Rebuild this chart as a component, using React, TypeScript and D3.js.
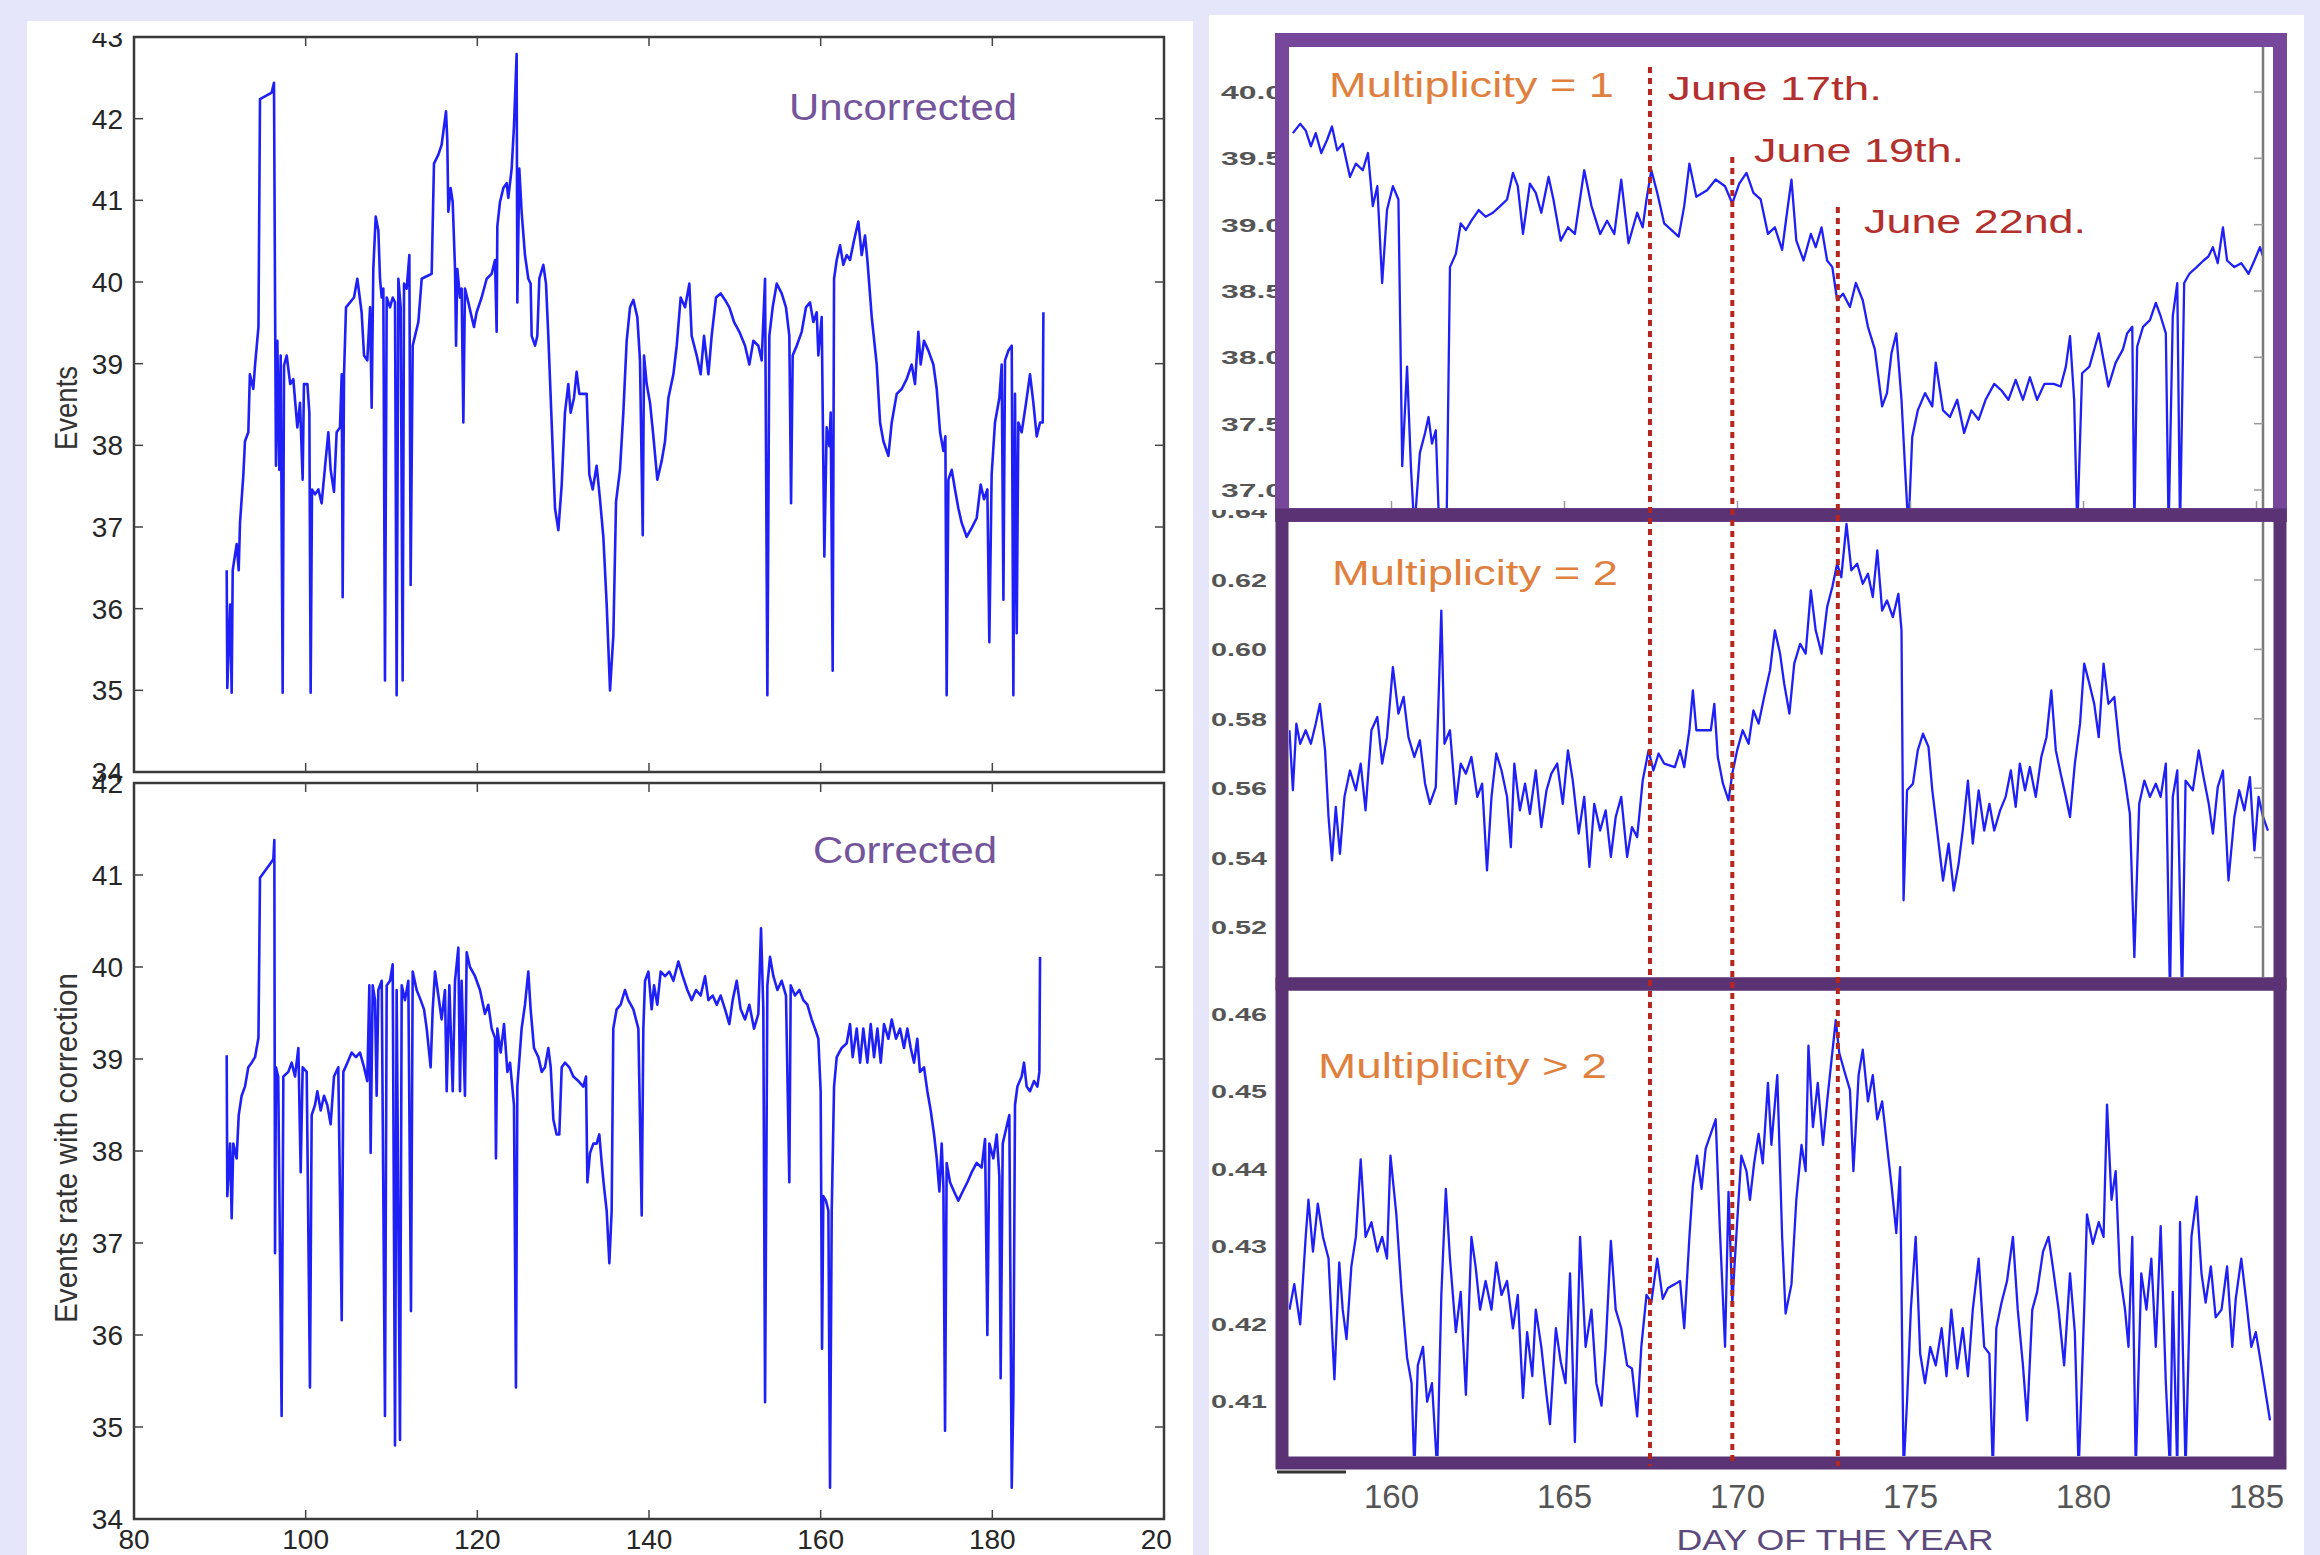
import React from 'react';
import * as d3 from 'd3';

// day of year, event rate
const uncorrected: [number, number][] = [
  [90.8, 36.47], [90.87, 35.03], [91.2, 36.05], [91.38, 34.97], [91.5, 36.47], [91.96, 36.79], [92.2, 36.47],
  [92.35, 37.05], [92.74, 37.64], [92.93, 38.05], [93.32, 38.16], [93.5, 38.87], [93.9, 38.69], [94.1, 38.98],
  [94.5, 39.45], [94.68, 42.24], [96.04, 42.32], [96.31, 42.44], [96.43, 39.86], [96.54, 37.75], [96.7, 39.28],
  [96.93, 37.7], [97.09, 39.1], [97.32, 34.97], [97.48, 38.98], [97.79, 39.1], [98.2, 38.75], [98.56, 38.81],
  [99.03, 38.22], [99.34, 38.52], [99.65, 37.58], [99.8, 38.75], [100.2, 38.75], [100.43, 38.4], [100.58, 34.97],
  [100.74, 37.46], [101.09, 37.4], [101.48, 37.46], [101.86, 37.29], [102.25, 37.73], [102.64, 38.16],
  [102.91, 37.7], [103.3, 37.43], [103.61, 38.16], [104.0, 38.22], [104.2, 38.87], [104.31, 36.14],
  [104.47, 38.87], [104.7, 39.69], [105.17, 39.75], [105.63, 39.81], [106.02, 40.04], [106.52, 39.63],
  [106.8, 39.1], [107.18, 39.04], [107.5, 39.69], [107.69, 38.46], [107.88, 40.16], [108.16, 40.8],
  [108.47, 40.63], [108.66, 40.04], [108.86, 39.81], [109.05, 39.92], [109.24, 35.12], [109.44, 39.81],
  [109.83, 39.69], [110.14, 39.81], [110.41, 39.75], [110.6, 34.94], [110.8, 40.04], [111.07, 39.69],
  [111.3, 35.12], [111.46, 39.98], [111.77, 39.92], [112.08, 40.33], [112.23, 36.29], [112.47, 39.22],
  [112.74, 39.34], [113.13, 39.51], [113.52, 40.04], [114.1, 40.07], [114.68, 40.1], [114.95, 41.45],
  [115.46, 41.56], [115.84, 41.68], [116.35, 42.09], [116.5, 41.74], [116.62, 40.86], [116.89, 41.15],
  [117.13, 40.98], [117.4, 40.16], [117.52, 39.22], [117.67, 40.16], [117.98, 39.81], [118.17, 39.92],
  [118.37, 38.28], [118.56, 39.92], [118.95, 39.75], [119.34, 39.57], [119.61, 39.45], [119.92, 39.63],
  [120.5, 39.81], [121.09, 40.04], [121.67, 40.1], [122.06, 40.27], [122.25, 39.39], [122.33, 40.68],
  [122.64, 40.98], [123.03, 41.15], [123.42, 41.21], [123.61, 41.03], [124.0, 41.39], [124.27, 41.91],
  [124.58, 42.79], [124.66, 39.75], [124.89, 41.39], [125.16, 40.86], [125.55, 40.33], [125.94, 40.04],
  [126.21, 39.98], [126.33, 39.34], [126.72, 39.22], [126.99, 39.34], [127.22, 40.04], [127.69, 40.21],
  [128.0, 39.98], [128.27, 39.34], [128.66, 38.28], [129.05, 37.23], [129.44, 36.96], [129.83, 37.52],
  [130.21, 38.4], [130.6, 38.75], [130.87, 38.4], [131.26, 38.58], [131.57, 38.9], [131.88, 38.63],
  [132.74, 38.63], [133.05, 37.64], [133.44, 37.46], [133.9, 37.75], [134.29, 37.34], [134.68, 36.88],
  [135.07, 36.05], [135.46, 35.0], [135.85, 35.68], [136.16, 37.31], [136.62, 37.7], [137.01, 38.4],
  [137.4, 39.28], [137.79, 39.69], [138.18, 39.78], [138.64, 39.57], [138.95, 39.04], [139.27, 36.9],
  [139.42, 39.1], [139.73, 38.75], [140.12, 38.52], [140.51, 38.11], [140.97, 37.58], [141.48, 37.81],
  [141.87, 38.05], [142.26, 38.58], [142.84, 38.87], [143.23, 39.22], [143.69, 39.81], [144.2, 39.69],
  [144.7, 39.98], [144.97, 39.34], [145.56, 39.1], [146.02, 38.87], [146.41, 39.34], [146.92, 38.87],
  [147.3, 39.34], [147.81, 39.81], [148.35, 39.86], [148.86, 39.78], [149.36, 39.69], [149.91, 39.51],
  [150.53, 39.39], [151.19, 39.22], [151.69, 38.99], [152.16, 39.28], [152.74, 39.22], [153.13, 39.04],
  [153.52, 40.04], [153.79, 34.94], [154.02, 39.34], [154.41, 39.69], [154.88, 39.98], [155.46, 39.86],
  [155.96, 39.69], [156.35, 39.34], [156.55, 37.29], [156.74, 39.1], [157.21, 39.22], [157.79, 39.39],
  [158.29, 39.69], [158.76, 39.75], [159.15, 39.51], [159.54, 39.63], [159.73, 39.1], [160.12, 39.57],
  [160.43, 36.64], [160.7, 38.22], [161.01, 37.99], [161.17, 38.4], [161.4, 35.24], [161.56, 40.04],
  [161.87, 40.27], [162.26, 40.45], [162.64, 40.21], [163.03, 40.33], [163.42, 40.27], [163.89, 40.51],
  [164.39, 40.74], [164.78, 40.33], [165.17, 40.57], [165.44, 40.27], [165.95, 39.57], [166.53, 38.99],
  [166.92, 38.28], [167.31, 38.05], [167.89, 37.87], [168.28, 38.28], [168.86, 38.63], [169.44, 38.69],
  [170.02, 38.81], [170.6, 38.99], [170.99, 38.75], [171.38, 39.39], [171.65, 38.99], [172.04, 39.28],
  [172.55, 39.16], [173.13, 38.99], [173.52, 38.69], [173.91, 38.16], [174.3, 37.93], [174.53, 38.11],
  [174.68, 34.94], [174.88, 37.58], [175.27, 37.7], [175.65, 37.46], [176.04, 37.23], [176.43, 37.05],
  [177.01, 36.88], [177.6, 36.99], [178.18, 37.11], [178.64, 37.52], [179.03, 37.34], [179.42, 37.46],
  [179.65, 35.59], [179.92, 37.64], [180.31, 38.28], [180.82, 38.58], [181.09, 38.99], [181.29, 36.11],
  [181.48, 39.04], [181.87, 39.16], [182.26, 39.22], [182.45, 34.94], [182.64, 38.63], [182.84, 35.7],
  [183.03, 38.28], [183.42, 38.16], [183.93, 38.52], [184.39, 38.87], [184.78, 38.52], [185.17, 38.11],
  [185.56, 38.28], [185.87, 38.28], [185.95, 39.63],
];

const corrected: [number, number][] = [
  [90.8, 39.04], [90.87, 37.51], [91.2, 38.08], [91.38, 37.27], [91.57, 38.08], [91.96, 37.92], [92.2, 38.39],
  [92.54, 38.6], [92.93, 38.7], [93.32, 38.91], [93.71, 38.96], [94.1, 39.02], [94.5, 39.23], [94.68, 40.97],
  [95.85, 41.12], [96.23, 41.17], [96.35, 41.38], [96.43, 36.89], [96.54, 38.91], [96.8, 38.81], [97.2, 35.12],
  [97.4, 38.81], [97.98, 38.86], [98.37, 38.96], [98.76, 38.81], [99.15, 39.12], [99.42, 37.77], [99.65, 38.91],
  [100.12, 38.86], [100.5, 35.43], [100.7, 38.39], [101.09, 38.5], [101.36, 38.65], [101.75, 38.44],
  [102.14, 38.6], [102.52, 38.5], [102.91, 38.29], [103.3, 38.81], [103.8, 38.91], [104.2, 36.16],
  [104.39, 38.86], [104.86, 38.96], [105.36, 39.07], [105.86, 39.02], [106.33, 39.07], [106.8, 38.91],
  [107.18, 38.76], [107.42, 39.8], [107.57, 37.98], [107.81, 39.8], [108.08, 39.64], [108.27, 38.6],
  [108.47, 39.75], [108.86, 39.85], [109.24, 35.12], [109.44, 39.8], [109.83, 39.85], [110.14, 40.03],
  [110.41, 34.8], [110.6, 39.75], [110.99, 34.86], [111.19, 39.8], [111.57, 39.64], [111.96, 39.85],
  [112.27, 36.26], [112.47, 39.95], [112.93, 39.75], [113.4, 39.64], [113.79, 39.54], [114.1, 39.33],
  [114.56, 38.91], [114.8, 39.54], [115.07, 39.95], [115.46, 39.69], [115.84, 39.43], [116.23, 39.75],
  [116.43, 38.65], [116.74, 39.8], [117.13, 38.65], [117.4, 39.85], [117.79, 40.21], [117.98, 38.65],
  [118.17, 39.85], [118.56, 38.6], [118.76, 40.16], [119.14, 40.0], [119.73, 39.9], [120.31, 39.75],
  [120.89, 39.49], [121.28, 39.59], [121.67, 39.33], [122.06, 39.23], [122.17, 37.92], [122.33, 39.33],
  [122.72, 39.07], [123.11, 39.38], [123.5, 38.86], [123.81, 38.96], [124.27, 38.5], [124.5, 35.43],
  [124.66, 38.7], [125.16, 39.33], [125.55, 39.59], [125.94, 39.95], [126.21, 39.54], [126.6, 39.12],
  [127.11, 39.02], [127.5, 38.86], [127.88, 38.91], [128.27, 39.12], [128.55, 38.91], [128.86, 38.34],
  [129.24, 38.18], [129.55, 38.18], [129.83, 38.91], [130.21, 38.96], [130.72, 38.91], [131.18, 38.81],
  [131.77, 38.76], [132.35, 38.7], [132.66, 38.81], [132.82, 37.66], [133.13, 37.98], [133.52, 38.08],
  [133.9, 38.08], [134.21, 38.18], [134.49, 37.87], [134.76, 37.61], [135.07, 37.35], [135.38, 36.78],
  [135.65, 37.35], [135.84, 39.33], [136.23, 39.54], [136.7, 39.59], [137.2, 39.75], [137.59, 39.64],
  [138.18, 39.54], [138.76, 39.33], [139.15, 37.3], [139.34, 39.33], [139.54, 39.85], [139.93, 39.95],
  [140.31, 39.54], [140.59, 39.8], [140.97, 39.59], [141.36, 39.95], [141.87, 39.9], [142.37, 39.95],
  [142.84, 39.85], [143.42, 40.06], [143.93, 39.9], [144.47, 39.75], [144.97, 39.64], [145.48, 39.75],
  [146.02, 39.69], [146.53, 39.9], [146.92, 39.64], [147.42, 39.69], [147.89, 39.59], [148.35, 39.69],
  [148.86, 39.54], [149.36, 39.38], [149.75, 39.64], [150.22, 39.85], [150.68, 39.54], [151.19, 39.43],
  [151.69, 39.59], [152.24, 39.33], [152.74, 39.49], [153.05, 40.42], [153.32, 39.54], [153.52, 35.27],
  [153.79, 39.8], [154.1, 40.11], [154.49, 39.9], [154.96, 39.75], [155.46, 39.85], [155.96, 39.69],
  [156.35, 37.66], [156.51, 39.8], [157.01, 39.69], [157.52, 39.75], [157.98, 39.64], [158.45, 39.59],
  [158.95, 39.43], [159.34, 39.33], [159.73, 39.22], [160.0, 38.65], [160.16, 35.85], [160.31, 37.51],
  [160.62, 37.46], [160.9, 37.35], [161.09, 34.34], [161.29, 37.35], [161.56, 38.7], [161.87, 39.02],
  [162.45, 39.12], [163.03, 39.17], [163.42, 39.38], [163.73, 39.02], [164.2, 39.33], [164.59, 38.96],
  [164.97, 39.33], [165.44, 38.96], [165.83, 39.38], [166.22, 39.02], [166.61, 39.33], [167.0, 38.96],
  [167.38, 39.38], [167.89, 39.22], [168.28, 39.43], [168.78, 39.22], [169.25, 39.33], [169.71, 39.12],
  [170.1, 39.33], [170.49, 39.12], [170.88, 38.96], [171.26, 39.22], [171.57, 38.86], [172.04, 38.91],
  [172.43, 38.65], [172.82, 38.44], [173.21, 38.18], [173.52, 37.92], [173.83, 37.56], [174.1, 38.08],
  [174.3, 37.61], [174.49, 34.96], [174.68, 37.87], [175.07, 37.66], [175.54, 37.56], [176.04, 37.46],
  [176.55, 37.56], [177.09, 37.66], [177.6, 37.77], [178.18, 37.87], [178.76, 37.82], [179.15, 38.13],
  [179.42, 36.0], [179.65, 38.08], [180.12, 37.92], [180.51, 38.18], [180.82, 37.72], [180.97, 35.53],
  [181.21, 38.08], [181.6, 38.24], [181.98, 38.39], [182.26, 34.34], [182.45, 35.33], [182.64, 38.5],
  [182.92, 38.7], [183.42, 38.81], [183.69, 38.96], [184.0, 38.7], [184.39, 38.65], [184.86, 38.76],
  [185.25, 38.7], [185.48, 38.86], [185.56, 40.11],
];

const mult1: [number, number][] = [
  [157.15, 39.69], [157.36, 39.76], [157.52, 39.71], [157.67, 39.59], [157.81, 39.69], [157.97, 39.54],
  [158.14, 39.64], [158.28, 39.74], [158.43, 39.56], [158.59, 39.61], [158.8, 39.36], [158.97, 39.46],
  [159.17, 39.41], [159.32, 39.54], [159.46, 39.14], [159.59, 39.29], [159.73, 38.56], [159.87, 39.11],
  [160.04, 39.29], [160.2, 39.19], [160.31, 37.18], [160.45, 37.93], [160.56, 37.18], [160.66, 36.7],
  [160.82, 37.28], [160.97, 37.43], [161.07, 37.55], [161.17, 37.35], [161.28, 37.45], [161.38, 36.7],
  [161.59, 36.7], [161.69, 38.68], [161.86, 38.78], [162.0, 39.01], [162.15, 38.96], [162.31, 39.03],
  [162.52, 39.11], [162.72, 39.06], [162.93, 39.09], [163.14, 39.14], [163.34, 39.19], [163.51, 39.39],
  [163.65, 39.29], [163.8, 38.93], [164.0, 39.31], [164.17, 39.24], [164.33, 39.09], [164.54, 39.36],
  [164.68, 39.19], [164.89, 38.88], [165.1, 38.98], [165.3, 38.93], [165.57, 39.41], [165.78, 39.14],
  [166.03, 38.93], [166.23, 39.03], [166.44, 38.93], [166.64, 39.34], [166.85, 38.86], [167.1, 39.09],
  [167.26, 38.98], [167.37, 39.19], [167.51, 39.41], [167.68, 39.24], [167.88, 39.01], [168.3, 38.91],
  [168.46, 39.14], [168.61, 39.46], [168.81, 39.21], [169.12, 39.26], [169.37, 39.34], [169.64, 39.29],
  [169.85, 39.16], [170.05, 39.31], [170.26, 39.39], [170.46, 39.24], [170.67, 39.19], [170.88, 38.93],
  [171.08, 38.98], [171.29, 38.81], [171.43, 39.09], [171.56, 39.34], [171.7, 38.88], [171.91, 38.73],
  [172.12, 38.93], [172.26, 38.83], [172.43, 38.98], [172.59, 38.73], [172.74, 38.68], [172.88, 38.43],
  [173.05, 38.48], [173.25, 38.38], [173.42, 38.56], [173.62, 38.43], [173.77, 38.23], [173.97, 38.06],
  [174.18, 37.63], [174.32, 37.73], [174.45, 38.03], [174.59, 38.18], [174.74, 37.68], [174.86, 37.08],
  [174.94, 36.7], [175.05, 37.4], [175.21, 37.6], [175.42, 37.73], [175.63, 37.63], [175.73, 37.96],
  [175.94, 37.6], [176.14, 37.55], [176.35, 37.68], [176.55, 37.43], [176.76, 37.6], [176.97, 37.53],
  [177.17, 37.68], [177.42, 37.8], [177.63, 37.75], [177.83, 37.68], [178.04, 37.83], [178.25, 37.68],
  [178.45, 37.85], [178.66, 37.68], [178.87, 37.8], [179.14, 37.8], [179.34, 37.78], [179.49, 37.93],
  [179.61, 38.16], [179.73, 37.68], [179.82, 36.7], [179.96, 37.88], [180.17, 37.93], [180.44, 38.18],
  [180.58, 37.98], [180.72, 37.78], [180.93, 37.96], [181.14, 38.06], [181.26, 38.18], [181.41, 38.23],
  [181.47, 36.7], [181.55, 38.08], [181.72, 38.23], [181.92, 38.28], [182.09, 38.41], [182.23, 38.31],
  [182.38, 38.18], [182.46, 36.7], [182.58, 38.31], [182.71, 38.56], [182.79, 36.7], [182.91, 38.56],
  [183.06, 38.63], [183.27, 38.68], [183.47, 38.73], [183.61, 38.76], [183.74, 38.83], [183.88, 38.71],
  [184.03, 38.98], [184.15, 38.73], [184.36, 38.68], [184.56, 38.71], [184.77, 38.63], [184.94, 38.73],
  [185.1, 38.83], [185.19, 38.76],
];

const mult2: [number, number][] = [
  [157.05, 0.5767], [157.15, 0.5594], [157.25, 0.5786], [157.36, 0.5728], [157.52, 0.5767], [157.67, 0.5728],
  [157.81, 0.5786], [157.93, 0.5843], [158.08, 0.5709], [158.18, 0.5517], [158.28, 0.5392], [158.39, 0.5546],
  [158.51, 0.5411], [158.64, 0.5575], [158.8, 0.5651], [158.97, 0.5594], [159.11, 0.5671], [159.25, 0.5536],
  [159.42, 0.5767], [159.59, 0.5805], [159.73, 0.5671], [159.87, 0.5747], [160.04, 0.5949], [160.2, 0.5815],
  [160.35, 0.5863], [160.49, 0.5747], [160.66, 0.569], [160.82, 0.5738], [160.97, 0.5613], [161.11, 0.5555],
  [161.28, 0.5603], [161.44, 0.6112], [161.53, 0.5728], [161.69, 0.5767], [161.86, 0.5555], [162.0, 0.5671],
  [162.15, 0.5642], [162.31, 0.569], [162.48, 0.5575], [162.62, 0.5613], [162.76, 0.5363], [162.89, 0.5575],
  [163.03, 0.57], [163.18, 0.5651], [163.34, 0.5575], [163.45, 0.543], [163.55, 0.5671], [163.71, 0.5536],
  [163.86, 0.5613], [164.0, 0.5526], [164.17, 0.5651], [164.33, 0.5488], [164.48, 0.5594], [164.62, 0.5642],
  [164.79, 0.5671], [164.95, 0.5555], [165.1, 0.5709], [165.24, 0.5622], [165.41, 0.5469], [165.57, 0.5575],
  [165.72, 0.5373], [165.86, 0.5555], [166.03, 0.5478], [166.19, 0.5536], [166.34, 0.5402], [166.48, 0.5517],
  [166.64, 0.5575], [166.81, 0.5402], [166.95, 0.5488], [167.1, 0.5459], [167.26, 0.5622], [167.43, 0.5709],
  [167.57, 0.5651], [167.72, 0.57], [167.88, 0.5671], [168.19, 0.5661], [168.34, 0.5709], [168.46, 0.5661],
  [168.61, 0.5767], [168.71, 0.5882], [168.81, 0.5767], [169.23, 0.5767], [169.33, 0.5843], [169.43, 0.569],
  [169.58, 0.5613], [169.74, 0.5565], [169.85, 0.5642], [169.99, 0.5709], [170.15, 0.5767], [170.32, 0.5728],
  [170.46, 0.5824], [170.61, 0.5786], [170.77, 0.5863], [170.94, 0.594], [171.08, 0.6055], [171.23, 0.5988],
  [171.35, 0.5901], [171.5, 0.5815], [171.64, 0.5959], [171.81, 0.6016], [171.97, 0.5988], [172.12, 0.617],
  [172.26, 0.6055], [172.43, 0.5988], [172.59, 0.6122], [172.74, 0.618], [172.88, 0.6247], [173.0, 0.6208],
  [173.15, 0.6362], [173.29, 0.6228], [173.46, 0.6247], [173.62, 0.6189], [173.77, 0.6218], [173.91, 0.6151],
  [174.04, 0.6285], [174.18, 0.6112], [174.32, 0.6141], [174.49, 0.6093], [174.65, 0.616], [174.74, 0.6055],
  [174.8, 0.5277], [174.9, 0.5594], [175.07, 0.5613], [175.21, 0.5709], [175.36, 0.5757], [175.52, 0.5719],
  [175.63, 0.5594], [175.77, 0.5478], [175.94, 0.5334], [176.1, 0.544], [176.25, 0.5305], [176.39, 0.5382],
  [176.51, 0.5478], [176.66, 0.5622], [176.8, 0.544], [176.97, 0.5594], [177.13, 0.5478], [177.28, 0.5555],
  [177.42, 0.5478], [177.59, 0.5536], [177.75, 0.5575], [177.9, 0.5651], [178.04, 0.5546], [178.16, 0.5671],
  [178.31, 0.5594], [178.45, 0.5661], [178.62, 0.5575], [178.78, 0.569], [178.93, 0.5747], [179.07, 0.5882],
  [179.2, 0.5709], [179.34, 0.5642], [179.49, 0.5575], [179.61, 0.5517], [179.75, 0.5671], [179.9, 0.5786],
  [180.02, 0.5959], [180.17, 0.5901], [180.31, 0.5843], [180.44, 0.5747], [180.58, 0.5959], [180.72, 0.5843],
  [180.89, 0.5863], [181.05, 0.5709], [181.2, 0.5622], [181.34, 0.5526], [181.47, 0.5113], [181.61, 0.5555],
  [181.76, 0.5622], [181.92, 0.5575], [182.09, 0.5613], [182.23, 0.5575], [182.38, 0.5671], [182.5, 0.5],
  [182.58, 0.5575], [182.71, 0.5651], [182.85, 0.5], [182.95, 0.5622], [183.16, 0.5594], [183.33, 0.5709],
  [183.47, 0.5632], [183.62, 0.5555], [183.74, 0.5469], [183.88, 0.5603], [184.03, 0.5651], [184.19, 0.5334],
  [184.36, 0.5517], [184.5, 0.5594], [184.65, 0.5536], [184.81, 0.5632], [184.94, 0.5421], [185.06, 0.5575],
  [185.19, 0.5517], [185.33, 0.5478],
];

const mult3: [number, number][] = [
  [157.05, 0.4218], [157.19, 0.4251], [157.36, 0.4199], [157.52, 0.4312], [157.6, 0.436], [157.73, 0.4293],
  [157.87, 0.4355], [158.02, 0.4312], [158.18, 0.4284], [158.35, 0.4128], [158.49, 0.4279], [158.59, 0.4218],
  [158.7, 0.418], [158.84, 0.4274], [158.97, 0.4312], [159.11, 0.4412], [159.25, 0.4312], [159.42, 0.4331],
  [159.59, 0.4293], [159.73, 0.4312], [159.87, 0.4284], [159.97, 0.4417], [160.14, 0.4341], [160.29, 0.4241],
  [160.45, 0.4156], [160.58, 0.4123], [160.66, 0.401], [160.76, 0.4146], [160.91, 0.417], [161.03, 0.4099],
  [161.17, 0.4123], [161.32, 0.401], [161.44, 0.4237], [161.57, 0.4374], [161.69, 0.4284], [161.86, 0.4189],
  [162.0, 0.4241], [162.15, 0.4108], [162.31, 0.4312], [162.43, 0.4274], [162.56, 0.4218], [162.72, 0.4255],
  [162.89, 0.4218], [163.03, 0.4279], [163.18, 0.4237], [163.34, 0.4255], [163.51, 0.4194], [163.65, 0.4237],
  [163.8, 0.4104], [163.92, 0.4189], [164.07, 0.4132], [164.17, 0.4218], [164.33, 0.417], [164.48, 0.4108],
  [164.58, 0.407], [164.75, 0.4194], [164.89, 0.4151], [165.03, 0.4123], [165.16, 0.4265], [165.3, 0.4047],
  [165.45, 0.4312], [165.61, 0.417], [165.78, 0.4218], [165.92, 0.4123], [166.07, 0.4094], [166.19, 0.417],
  [166.34, 0.4307], [166.48, 0.4218], [166.64, 0.4194], [166.81, 0.4146], [166.95, 0.4142], [167.1, 0.408],
  [167.22, 0.417], [167.37, 0.4237], [167.51, 0.4227], [167.68, 0.4284], [167.84, 0.4232], [167.99, 0.4246],
  [168.19, 0.4251], [168.34, 0.4255], [168.46, 0.4194], [168.61, 0.4312], [168.71, 0.4379], [168.83, 0.4417],
  [168.96, 0.4374], [169.08, 0.4426], [169.37, 0.4464], [169.49, 0.4322], [169.64, 0.417], [169.74, 0.437],
  [169.85, 0.4227], [169.99, 0.4331], [170.11, 0.4417], [170.26, 0.4397], [170.36, 0.436], [170.48, 0.4407],
  [170.61, 0.4445], [170.73, 0.4407], [170.88, 0.4511], [170.98, 0.4431], [171.15, 0.4521], [171.29, 0.4312],
  [171.39, 0.4213], [171.56, 0.4251], [171.7, 0.436], [171.85, 0.4431], [171.97, 0.4397], [172.05, 0.4559],
  [172.18, 0.4454], [172.32, 0.4511], [172.47, 0.4431], [172.59, 0.4487], [172.74, 0.455], [172.84, 0.4592],
  [172.94, 0.455], [173.09, 0.4526], [173.25, 0.4502], [173.35, 0.4397], [173.5, 0.4521], [173.62, 0.4554],
  [173.77, 0.4487], [173.91, 0.4521], [174.04, 0.4464], [174.18, 0.4487], [174.32, 0.4431], [174.45, 0.4379],
  [174.59, 0.4317], [174.7, 0.4402], [174.8, 0.401], [174.9, 0.4099], [175.01, 0.4218], [175.15, 0.4312],
  [175.28, 0.4161], [175.42, 0.4123], [175.57, 0.417], [175.73, 0.4146], [175.9, 0.4194], [176.04, 0.4132],
  [176.18, 0.4218], [176.35, 0.4142], [176.51, 0.4194], [176.66, 0.4132], [176.8, 0.4218], [176.97, 0.4284],
  [177.13, 0.417], [177.28, 0.4161], [177.38, 0.401], [177.48, 0.4194], [177.63, 0.4227], [177.79, 0.4255],
  [177.96, 0.4312], [178.1, 0.4218], [178.25, 0.4146], [178.37, 0.4075], [178.52, 0.4218], [178.66, 0.4241],
  [178.83, 0.4293], [178.99, 0.4312], [179.14, 0.4265], [179.28, 0.4218], [179.44, 0.4146], [179.61, 0.4265],
  [179.75, 0.4189], [179.86, 0.401], [180.02, 0.4218], [180.1, 0.4341], [180.27, 0.4303], [180.44, 0.4331],
  [180.58, 0.4312], [180.68, 0.4483], [180.81, 0.436], [180.93, 0.4397], [181.05, 0.4265], [181.2, 0.4218],
  [181.3, 0.417], [181.41, 0.4312], [181.51, 0.401], [181.67, 0.4265], [181.82, 0.4218], [181.96, 0.4284],
  [182.09, 0.417], [182.23, 0.4326], [182.38, 0.4123], [182.5, 0.401], [182.58, 0.4241], [182.71, 0.401],
  [182.79, 0.4331], [182.95, 0.401], [183.12, 0.4312], [183.27, 0.4364], [183.41, 0.4265], [183.53, 0.4227],
  [183.68, 0.4274], [183.82, 0.4208], [183.99, 0.4218], [184.15, 0.4274], [184.3, 0.417], [184.4, 0.4232],
  [184.56, 0.4284], [184.71, 0.4227], [184.85, 0.417], [184.98, 0.4189], [185.12, 0.4151], [185.22, 0.4123],
  [185.39, 0.4075],
];

const leftXTicks = [80, 100, 120, 140, 160, 180, 200];
const topYTicks = [34, 35, 36, 37, 38, 39, 40, 41, 42, 43];
const bottomYTicks = [34, 35, 36, 37, 38, 39, 40, 41, 42];
const dayTicks = [160, 165, 170, 175, 180, 185];
const m1Ticks = [40.0, 39.5, 39.0, 38.5, 38.0, 37.5, 37.0];
const m2Ticks = [0.64, 0.62, 0.6, 0.58, 0.56, 0.54, 0.52];
const m3Ticks = [0.46, 0.45, 0.44, 0.43, 0.42, 0.41];
const markerDays = [167.47, 169.85, 172.9];
const markerLabels = ['June 17th.', 'June 19th.', 'June 22nd.'];

const FONT = '"Liberation Sans", Arial, Helvetica, sans-serif';
const BLUE = '#1f1ff8';

const xL = d3.scaleLinear().domain([80, 200]).range([134, 1164]);
const yTop = d3.scaleLinear().domain([34, 43]).range([772, 37]);
const yBot = d3.scaleLinear().domain([34, 42]).range([1519, 783]);

const xR = d3.scaleLinear().domain([160, 185]).range([1391.5, 2256.5]);
const y1 = d3.scaleLinear().domain([37, 40]).range([490, 92]);
const y2 = d3.scaleLinear().domain([0.52, 0.62]).range([927, 580]);
const y3 = d3.scaleLinear().domain([0.41, 0.46]).range([1401, 1014]);

function LeftPlot({ id, data, y, yTicks }) {
  const top = y.range()[1];
  const bot = y.range()[0];
  const line = d3.line<[number, number]>().x(d => xL(d[0])).y(d => y(d[1]));
  return (
    <g>
      <clipPath id={id}>
        <rect x={134} y={top} width={1030} height={bot - top} />
      </clipPath>
      <path d={line(data) || ''} fill="none" stroke={BLUE} strokeWidth={2.6}
        strokeLinejoin="round" clipPath={`url(#${id})`} />
      <rect x={134} y={top} width={1030} height={bot - top} fill="none" stroke="#3a3a3a" strokeWidth={2.5} />
      {leftXTicks.slice(1, -1).map(v => (
        <g key={v} stroke="#444" strokeWidth={1.5}>
          <line x1={xL(v)} x2={xL(v)} y1={top} y2={top + 9} />
          <line x1={xL(v)} x2={xL(v)} y1={bot} y2={bot - 9} />
        </g>
      ))}
      {yTicks.slice(1, -1).map(v => (
        <g key={v} stroke="#444" strokeWidth={1.5}>
          <line x1={134} x2={143} y1={y(v)} y2={y(v)} />
          <line x1={1164} x2={1155} y1={y(v)} y2={y(v)} />
        </g>
      ))}
      <g clipPath="url(#leftLabels)">
        {yTicks.map(v => (
          <text key={v} x={123} y={y(v) + 10} textAnchor="end" fontSize={28} fill="#262626">{v}</text>
        ))}
      </g>
    </g>
  );
}

function RightPlot({ id, data, y, top, bot, spine }) {
  const line = d3.line<[number, number]>().x(d => xR(d[0])).y(d => y(d[1]));
  return (
    <g>
      <clipPath id={id}>
        <rect x={1289} y={top} width={984} height={bot - top} />
      </clipPath>
      <path d={line(data) || ''} fill="none" stroke={BLUE} strokeWidth={2.3}
        strokeLinejoin="round" clipPath={`url(#${id})`} />
      {spine && <line x1={2263} x2={2263} y1={top} y2={bot} stroke="#7a7a7a" strokeWidth={2.5} />}
    </g>
  );
}

export default function App() {
  const rightTickLabels = (ticks, y, fmt, x0, len) =>
    ticks.map(v => (
      <text key={v} x={x0} y={y(v) + 7} fontSize={19} fontWeight="bold" fill="#555"
        textLength={len} lengthAdjust="spacingAndGlyphs">{fmt(v)}</text>
    ));

  const markerStart = [67, 157, 207];
  const markerText = [
    { x: 1668, y: 100, w: 214 },
    { x: 1754, y: 162, w: 210 },
    { x: 1864, y: 233, w: 222 },
  ];

  return (
    <svg width={2320} height={1555} style={{ position: 'absolute', left: 0, top: 0, display: 'block' }}
      fontFamily={FONT}>
      <defs>
        <clipPath id="leftLabels">
          <rect x={0} y={33} width={1172} height={1555} />
        </clipPath>
        <clipPath id="m2Labels">
          <rect x={1200} y={510} width={80} height={480} />
        </clipPath>
      </defs>
      <rect x={0} y={0} width={2320} height={1555} fill="#e6e6fa" />

      {/* left panel */}
      <rect x={27} y={21} width={1166} height={1534} fill="#ffffff" />
      <LeftPlot id="clipTop" data={uncorrected} y={yTop} yTicks={topYTicks} />
      <LeftPlot id="clipBot" data={corrected} y={yBot} yTicks={bottomYTicks} />
      <g clipPath="url(#leftLabels)">
        {leftXTicks.map(v => (
          <text key={v} x={xL(v)} y={1549} textAnchor="middle" fontSize={28} fill="#262626">{v}</text>
        ))}
      </g>
      <text x={789} y={120} fontSize={36} fill="#74549a" textLength={228} lengthAdjust="spacingAndGlyphs">Uncorrected</text>
      <text x={813} y={863} fontSize={36} fill="#74549a" textLength={184} lengthAdjust="spacingAndGlyphs">Corrected</text>
      <text transform="translate(77,408) rotate(-90)" textAnchor="middle" fontSize={32} fill="#333"
        textLength={84} lengthAdjust="spacingAndGlyphs">Events</text>
      <text transform="translate(77,1148) rotate(-90)" textAnchor="middle" fontSize={32} fill="#333"
        textLength={350} lengthAdjust="spacingAndGlyphs">Events rate with  correction</text>

      {/* right panel */}
      <rect x={1209} y={15} width={1095} height={1540} fill="#ffffff" />
      <RightPlot id="clipM1" data={mult1} y={y1} top={47} bot={509} spine />
      <RightPlot id="clipM2" data={mult2} y={y2} top={522} bot={977} spine />
      <RightPlot id="clipM3" data={mult3} y={y3} top={991} bot={1456} spine={false} />

      {m1Ticks.map(v => (
        <g key={v} stroke="#999" strokeWidth={1.5}>
          <line x1={2263} x2={2254} y1={y1(v)} y2={y1(v)} />
        </g>
      ))}
      {m2Ticks.slice(1).map(v => (
        <g key={v} stroke="#999" strokeWidth={1.5}>
          <line x1={2263} x2={2254} y1={y2(v)} y2={y2(v)} />
        </g>
      ))}
      {dayTicks.map(v => (
        <line key={v} x1={xR(v)} x2={xR(v)} y1={509} y2={501} stroke="#999" strokeWidth={1.5} />
      ))}

      {rightTickLabels(m1Ticks, y1, v => v.toFixed(1), 1221, 62)}
      <g clipPath="url(#m2Labels)">
        {rightTickLabels(m2Ticks, y2, v => v.toFixed(2), 1211, 56)}
      </g>
      {rightTickLabels(m3Ticks, y3, v => v.toFixed(2), 1211, 56)}

      {/* purple frames */}
      <rect x={1282} y={40} width={998} height={475} fill="none" stroke="#76479a" strokeWidth={14} />
      <rect x={1282} y={515} width={998} height={469} fill="none" stroke="#5b3273" strokeWidth={13} />
      <rect x={1282} y={984} width={998} height={479} fill="none" stroke="#5b3273" strokeWidth={13} />
      <line x1={1277} x2={1346} y1={1472} y2={1472} stroke="#333" strokeWidth={3} />

      <text x={1329} y={97} fontSize={35} fill="#e0803e" textLength={285} lengthAdjust="spacingAndGlyphs">Multiplicity = 1</text>
      <text x={1332} y={585} fontSize={35} fill="#e0803e" textLength={286} lengthAdjust="spacingAndGlyphs">Multiplicity = 2</text>
      <text x={1318} y={1078} fontSize={35} fill="#e0803e" textLength={289} lengthAdjust="spacingAndGlyphs">Multiplicity &gt; 2</text>

      {markerDays.map((d, i) => (
        <line key={d} x1={xR(d)} x2={xR(d)} y1={markerStart[i]} y2={1466}
          stroke="#b5261e" strokeWidth={4} strokeDasharray="6 5" />
      ))}
      {markerLabels.map((t, i) => (
        <text key={t} x={markerText[i].x} y={markerText[i].y} fontSize={34} fill="#b3302d"
          textLength={markerText[i].w} lengthAdjust="spacingAndGlyphs">{t}</text>
      ))}

      {dayTicks.map(v => (
        <text key={v} x={xR(v)} y={1508} textAnchor="middle" fontSize={33} fill="#555">{v}</text>
      ))}
      <text x={1835} y={1550} textAnchor="middle" fontSize={29} fill="#5c4a7c"
        textLength={317} lengthAdjust="spacingAndGlyphs">DAY OF THE YEAR</text>
    </svg>
  );
}
